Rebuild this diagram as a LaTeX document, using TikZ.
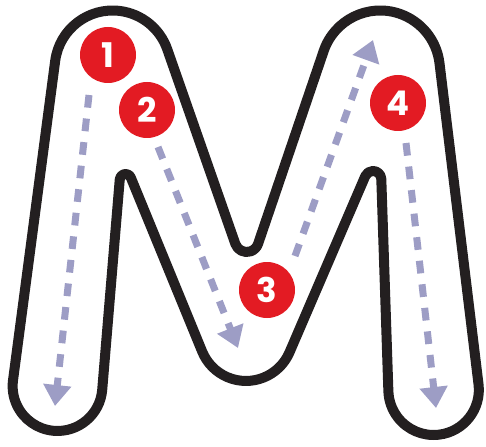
\documentclass[tikz,border=0pt]{standalone}
\usepackage{fontspec}
\setsansfont{Poppins}
\usetikzlibrary{arrows.meta,calc}
\definecolor{inkblack}{HTML}{231F20}
\definecolor{markred}{HTML}{E31B23}
\definecolor{tracelilac}{HTML}{9D9DC5}

\begin{document}
\begin{tikzpicture}[x=1pt, y=1pt, yscale=-1,
  letter/.style={draw=inkblack, fill=white, line width=10pt, line join=round},
  trace/.style={draw=tracelilac, line width=7pt, dash pattern=on 12.7pt off 11pt, -{Triangle[width=27pt, length=21pt]}},
  stepmark/.style={circle, fill=markred, minimum size=56pt, inner sep=0pt, text=white, font=\sffamily\bfseries\fontsize{34}{34}\selectfont}]
\useasboundingbox (0,0) rectangle (486,446);
\coordinate (tl) at (112.6,68.4);
\coordinate (vn) at (246.7,240);
\coordinate (tr) at (380.2,70.2);
\coordinate (bfour) at (433.6,389.75);
\coordinate (ntwo) at (372.97,179.3);
\coordinate (vb) at (246,333.6);
\coordinate (none) at (125.5,179.8);
\coordinate (bone) at (57.5,386.1);
\draw[letter] ($(tl)+(187.5:57.9)$) arc[start angle=187.5, end angle=340.7, radius=57.9]
  -- ($(vn)+(160.7:12)$) arc[start angle=160.7, end angle=18.8, radius=12]
  -- ($(tr)+(198.8:59.7)$) arc[start angle=198.8, end angle=353.1, radius=59.7]
  -- ($(bfour)+(-6.9:45.25)$) arc[start angle=-6.9, end angle=178.1, radius=45.25]
  -- ($(ntwo)+(-1.9:8.33)$) arc[start angle=-1.9, end angle=-156.7, radius=8.33]
  -- ($(vb)+(23.3:47.36)$) arc[start angle=23.3, end angle=157.7, radius=47.36]
  -- ($(none)+(-22.3:5.76)$) arc[start angle=-22.3, end angle=-175.2, radius=5.76]
  -- ($(bone)+(4.8:44.87)$) arc[start angle=4.8, end angle=187.5, radius=44.87]
  -- cycle;
\coordinate (downa) at (89,95);
\coordinate (downb) at (55,406);
\coordinate (slopea) at (158,147);
\coordinate (slopeb) at (238,348);
\coordinate (climba) at (295,256);
\coordinate (climbb) at (373,40);
\coordinate (lasta) at (406,143);
\coordinate (lastb) at (436,408);
\draw[trace] (downa) -- (downb);
\draw[trace] (slopea) -- (slopeb);
\draw[trace] (climba) -- (climbb);
\draw[trace] (lasta) -- (lastb);
\node[stepmark] (one) at (108,55) {1};
\node[stepmark] (two) at (147,110) {2};
\node[stepmark] (three) at (267,290) {3};
\node[stepmark] (four) at (398,103) {4};
\end{tikzpicture}
\end{document}
